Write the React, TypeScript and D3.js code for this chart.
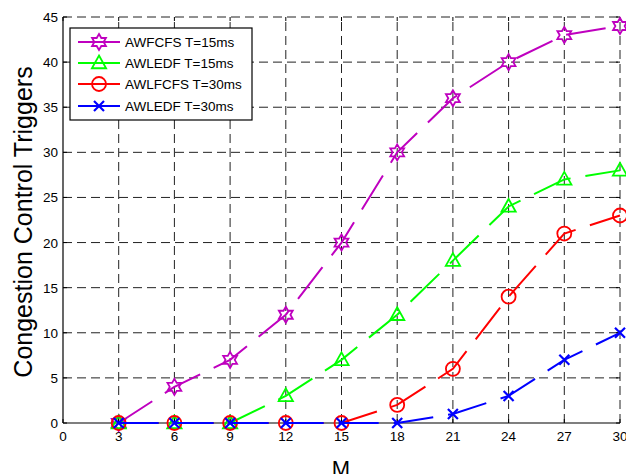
import React from "react";
import * as d3 from "d3";

const mValues = [3, 6, 9, 12, 15, 18, 21, 24, 27, 30];
const awfcfs15 = [0, 4, 7, 12, 20, 30, 36, 40, 43, 44];
const awledf15 = [0, 0, 0, 3, 7, 12, 18, 24, 27, 28];
const awlfcfs30 = [0, 0, 0, 0, 0, 2, 6, 14, 21, 23];
const awledf30 = [0, 0, 0, 0, 0, 0, 1, 3, 7, 10];
const xTicks = [0, 3, 6, 9, 12, 15, 18, 21, 24, 27, 30];
const yTicks = [0, 5, 10, 15, 20, 25, 30, 35, 40, 45];
const seriesNames = ["AWFCFS T=15ms", "AWLEDF T=15ms", "AWLFCFS T=30ms", "AWLEDF T=30ms"];
const seriesColors = ["#BF00BF", "#00FF00", "#FF0000", "#0000FF"];
const seriesMarkers = ["hexagram", "triangle", "circle", "x"];
const seriesData = [awfcfs15, awledf15, awlfcfs30, awledf30];

const W = 626;
const H = 474;
const left = 63, right = 620, top = 17, bottom = 423;
const FONT = "'Liberation Sans', Arial, Helvetica, sans-serif";

function hexagramPath(r: number) {
  const pts: [number, number][] = [];
  const inner = r / Math.sqrt(3);
  for (let i = 0; i < 12; i++) {
    const a = (Math.PI / 6) * i - Math.PI / 2;
    const rr = i % 2 === 0 ? r : inner;
    pts.push([rr * Math.cos(a), rr * Math.sin(a)]);
  }
  return "M" + pts.map((p) => p[0].toFixed(2) + "," + p[1].toFixed(2)).join("L") + "Z";
}

function Marker({ kind, x, y, color }: { kind: string; x: number; y: number; color: string }) {
  const sw = 1.8;
  if (kind === "hexagram") {
    return <path d={hexagramPath(8)} transform={`translate(${x},${y})`} fill="none" stroke={color} strokeWidth={sw} />;
  }
  if (kind === "triangle") {
    const r = 7.5;
    const d = `M0,${-r}L${r * 0.95},${r * 0.7}L${-r * 0.95},${r * 0.7}Z`;
    return <path d={d} transform={`translate(${x},${y})`} fill="none" stroke={color} strokeWidth={sw} />;
  }
  if (kind === "circle") {
    return <circle cx={x} cy={y} r={7} fill="none" stroke={color} strokeWidth={sw} />;
  }
  const s = 5;
  return (
    <path
      d={`M${-s},${-s}L${s},${s}M${-s},${s}L${s},${-s}`}
      transform={`translate(${x},${y})`}
      fill="none"
      stroke={color}
      strokeWidth={sw + 0.4}
    />
  );
}

export default function App() {
  const x = d3.scaleLinear().domain([0, 30]).range([left, right]);
  const y = d3.scaleLinear().domain([0, 45]).range([bottom, top]);
  const line = d3
    .line<[number, number]>()
    .x((d) => x(d[0]))
    .y((d) => y(d[1]));

  const legendX = 70, legendY = 28, legendW = 182, legendH = 92;
  const legendRows = [42, 63, 84, 106];

  return (
    <svg
      width={W}
      height={H}
      style={{ position: "absolute", left: 0, top: 0, background: "#fff" }}
      fontFamily={FONT}
    >
      <rect x={0} y={0} width={W} height={H} fill="#fff" />
      {/* grid */}
      {xTicks.filter((t) => t > 0).map((t) => (
        <line key={"gx" + t} x1={x(t)} x2={x(t)} y1={bottom} y2={top} stroke="#222" strokeWidth={1} strokeDasharray="9,5" />
      ))}
      {yTicks.filter((t) => t > 0).map((t) => (
        <line key={"gy" + t} x1={left} x2={right} y1={y(t)} y2={y(t)} stroke="#222" strokeWidth={1} strokeDasharray="9,5" />
      ))}
      {/* ticks */}
      {xTicks.map((t) => (
        <g key={"tx" + t}>
          <line x1={x(t)} x2={x(t)} y1={bottom} y2={bottom - 4} stroke="#000" />
          <line x1={x(t)} x2={x(t)} y1={top} y2={top + 4} stroke="#000" />
          <text x={x(t)} y={bottom + 18} textAnchor="middle" fontSize={13.5} fill="#000">
            {t}
          </text>
        </g>
      ))}
      {yTicks.map((t) => (
        <g key={"ty" + t}>
          <line x1={left} x2={left + 4} y1={y(t)} y2={y(t)} stroke="#000" />
          <line x1={right} x2={right - 4} y1={y(t)} y2={y(t)} stroke="#000" />
          <text x={left - 5} y={y(t) + 5} textAnchor="end" fontSize={13.5} fill="#000">
            {t}
          </text>
        </g>
      ))}
      {/* axes */}
      <line x1={left} x2={left} y1={top} y2={bottom} stroke="#000" strokeWidth={1.2} />
      <line x1={left} x2={right} y1={bottom} y2={bottom} stroke="#000" strokeWidth={1.2} />
      {/* series */}
      {seriesData.map((vals, i) => (
        <g key={"s" + i}>
          <path
            d={line(mValues.map((m, j) => [m, vals[j]] as [number, number])) || ""}
            fill="none"
            stroke={seriesColors[i]}
            strokeWidth={2}
            strokeDasharray="40,15"
          />
          {mValues.map((m, j) => (
            <Marker key={j} kind={seriesMarkers[i]} x={x(m)} y={y(vals[j])} color={seriesColors[i]} />
          ))}
        </g>
      ))}
      {/* legend */}
      <rect x={legendX} y={legendY} width={legendW} height={legendH} fill="#fff" stroke="#000" strokeWidth={1.2} />
      {seriesNames.map((n, i) => (
        <g key={"l" + i}>
          <line x1={78} x2={120} y1={legendRows[i]} y2={legendRows[i]} stroke={seriesColors[i]} strokeWidth={2} />
          <Marker kind={seriesMarkers[i]} x={99} y={legendRows[i]} color={seriesColors[i]} />
          <text x={125} y={legendRows[i] + 5} fontSize={13.5} fill="#000">
            {n}
          </text>
        </g>
      ))}
      {/* axis labels */}
      <text x={341} y={476} textAnchor="middle" fontSize={22} fill="#000">
        M
      </text>
      <text
        transform={`translate(32,222) rotate(-90)`}
        textAnchor="middle"
        fontSize={25}
        fill="#000"
      >
        Congestion Control Triggers
      </text>
    </svg>
  );
}
